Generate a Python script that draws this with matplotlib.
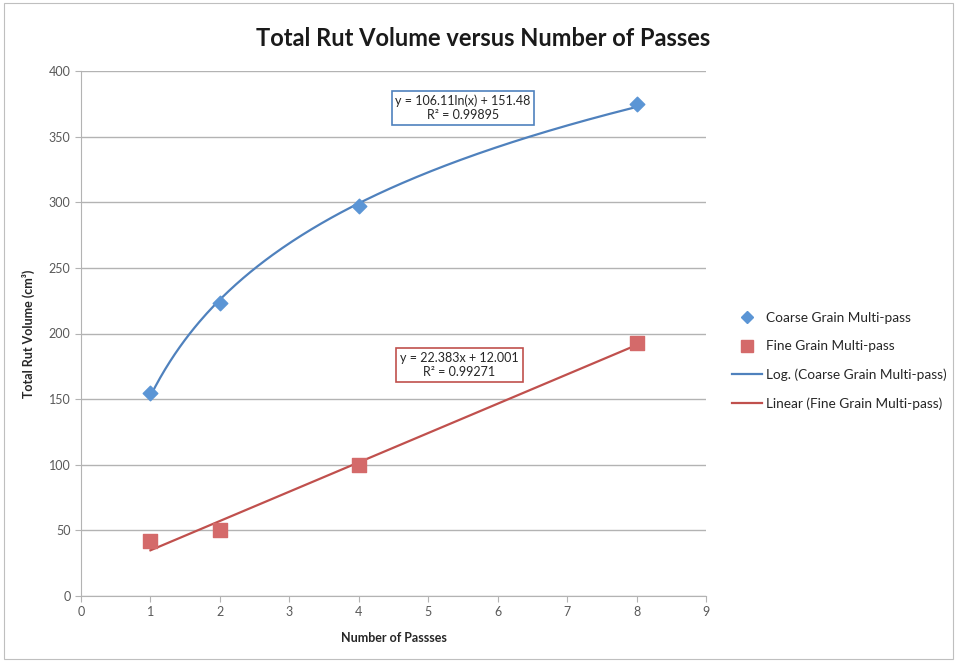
import numpy as np
import matplotlib
matplotlib.use("Agg")
import matplotlib.pyplot as plt
from matplotlib.lines import Line2D
from matplotlib.patches import Rectangle

plt.rcParams["font.family"] = ["Lato", "DejaVu Sans"]

passes = [1, 2, 4, 8]
coarse = [155, 223, 297, 375]
fine = [42, 50, 100, 193]

coarse_label = "Coarse Grain Multi-pass"
fine_label = "Fine Grain Multi-pass"
log_label = "Log. (Coarse Grain Multi-pass)"
lin_label = "Linear (Fine Grain Multi-pass)"
log_eq = "y = 106.11ln(x) + 151.48\nR² = 0.99895"
lin_eq = "y = 22.383x + 12.001\nR² = 0.99271"

blue = "#4f81bd"
blue_mk = "#5b95d5"
red = "#c0504d"
red_mk = "#d46a6a"
grey = "#595959"

W, H = 957, 662
fig = plt.figure(figsize=(W / 100, H / 100), dpi=100)
fig.patches.append(Rectangle((0.004, 0.004), 0.992, 0.992, transform=fig.transFigure,
                             fill=False, edgecolor="#bfbfbf", linewidth=0.8))
ax = fig.add_axes([81 / W, 1 - 596 / H, (706 - 81) / W, (596 - 71) / H])

# trend lines fitted from the data
xs = np.linspace(1, 8, 200)
a, b = np.polyfit(np.log(passes), coarse, 1)
m, c = np.polyfit(passes, fine, 1)
ax.plot(xs, a * np.log(xs) + b, color=blue, linewidth=1.6, zorder=3)
ax.plot([1, 8], [m * 1 + c, m * 8 + c], color=red, linewidth=1.6, zorder=3)

ax.scatter(passes, coarse, marker="D", s=55, color=blue_mk, zorder=4)
ax.scatter(passes, fine, marker="s", s=110, color=red_mk, zorder=4)

ax.set_xlim(0, 9)
ax.set_ylim(0, 400)
ax.set_xticks(range(0, 10))
ax.set_yticks(range(0, 401, 50))
ax.yaxis.grid(True, color="#b3b3b3", linewidth=1)
ax.set_axisbelow(True)
for s in ["top", "right"]:
    ax.spines[s].set_visible(False)
for s in ["left", "bottom"]:
    ax.spines[s].set_color("#b3b3b3")
ax.tick_params(colors="#b3b3b3", labelcolor=grey, labelsize=9, length=4, direction="out")

ax.set_xlabel("Number of Passses", fontsize=9, fontweight="bold", color="#262626", labelpad=10)
ax.set_ylabel("Total Rut Volume (cm³)", fontsize=9, fontweight="bold", color="#262626", labelpad=10)
fig.text(0.505, 1 - 38 / H, "Total Rut Volume versus Number of Passes", ha="center", va="center",
         fontsize=17, fontweight="bold", color="#1a1a1a")

ax.text(5.5, 372, log_eq, ha="center", va="center", fontsize=9, color="#262626", linespacing=1.2,
        bbox=dict(boxstyle="square,pad=0.3", facecolor="white", edgecolor=blue, linewidth=1.2), zorder=5)
ax.text(5.45, 176, lin_eq, ha="center", va="center", fontsize=9, color="#262626", linespacing=1.2,
        bbox=dict(boxstyle="square,pad=0.3", facecolor="white", edgecolor=red, linewidth=1.2), zorder=5)

handles = [
    Line2D([], [], linestyle="none", marker="D", markersize=6, color=blue_mk),
    Line2D([], [], linestyle="none", marker="s", markersize=8, color=red_mk),
    Line2D([], [], color=blue, linewidth=1.6),
    Line2D([], [], color=red, linewidth=1.6),
]
fig.legend(handles, [coarse_label, fine_label, log_label, lin_label], loc="center left",
           bbox_to_anchor=(720 / W, 1 - 361 / H), frameon=False, fontsize=9.8,
           handlelength=2.2, handletextpad=0.3, labelspacing=1.2, labelcolor="#262626")

fig.savefig("out.png", dpi=100)
